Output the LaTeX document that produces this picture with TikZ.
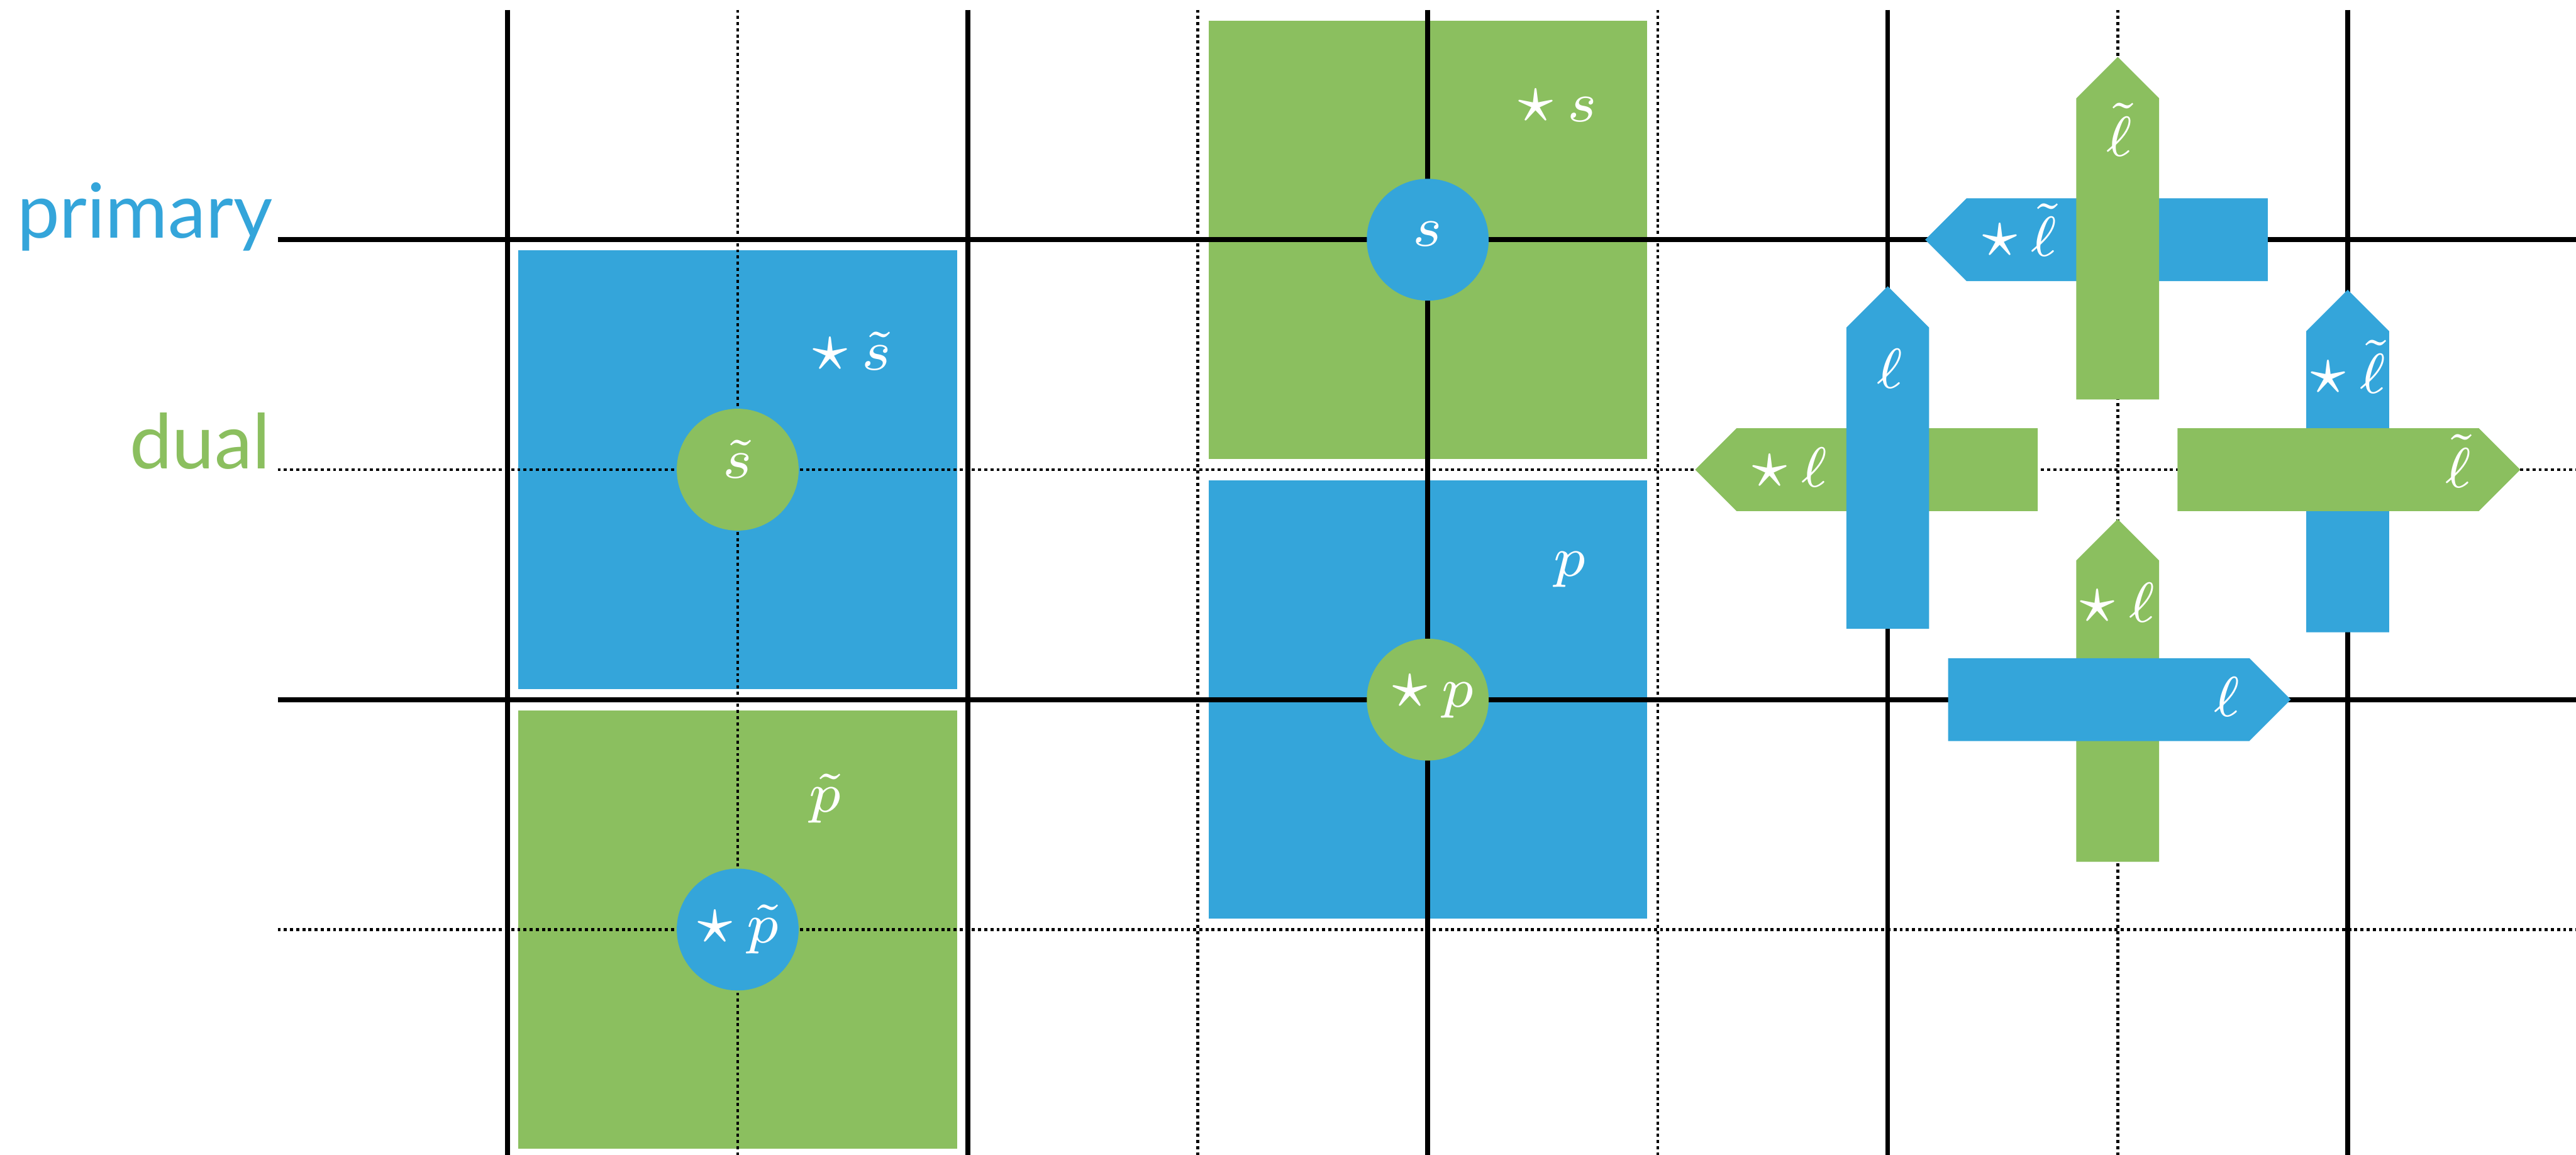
\documentclass[tikz,border=0pt]{standalone}
\usepackage{fontspec}
\usepackage{amsmath}
\usepackage{tikz}
\usetikzlibrary{positioning}
\newfontfamily\tagfont{Lato}
\definecolor{primblue}{HTML}{34A5DA}
\definecolor{dualgreen}{HTML}{8BBF5F}
\newcommand{\hodge}{\mathord{\scalebox{1.2}{$\star$}}\mskip3mu}
\newcommand{\ltil}{\skew{2}{\tilde}{\ell}}
\newcommand{\edgetile}[3]{\fill[#1,shift={(#2)},rotate=#3](0,-1.8)--(13.1,-1.8)--(14.9,0)--(13.1,1.8)--(0,1.8)--cycle;}
\begin{document}
\begin{tikzpicture}[x=1mm,y=1mm,font=\fontsize{7.5}{9}\selectfont,
    prim/.style={black,line width=.6pt},
    dual/.style={black,line width=.36pt,dash pattern=on .38pt off .38pt},
    lbl/.style={text=white,inner sep=0}]
    \useasboundingbox(-22.075,10.425) rectangle(89.925,-39.8);
    \fill[primblue](.47,-.47) rectangle(19.53,-19.53); \fill[dualgreen](.47,-20.47) rectangle(19.53,-39.53);
    \fill[dualgreen](30.47,9.53) rectangle(49.53,-9.53); \fill[primblue](30.47,-10.47) rectangle(49.53,-29.53);
    \draw[prim](0,10)--(0,-39.8); \draw[prim](20,10)--(20,-39.8); \draw[prim](40,10)--(40,-39.8);
    \draw[prim](60,10)--(60,-39.8); \draw[prim](80,10)--(80,-39.8);
    \draw[dual](10,10)--(10,-39.8); \draw[dual](30,10)--(30,-39.8); \draw[dual](50,10)--(50,-39.8); \draw[dual](70,10)--(70,-39.8);
    \draw[prim](-10,0)--(89.925,0); \draw[prim](-10,-20)--(89.925,-20);
    \draw[dual](-10,-10)--(89.925,-10); \draw[dual](-10,-30)--(89.925,-30);
    \fill[dualgreen](10,-10) circle(2.65); \fill[primblue](10,-30) circle(2.65);
    \fill[primblue](40,0) circle(2.65); \fill[dualgreen](40,-20) circle(2.65);
    \edgetile{primblue}{76.525,0}{180} \edgetile{dualgreen}{70,-6.95}{90}
    \edgetile{dualgreen}{66.525,-10}{180} \edgetile{primblue}{60,-16.925}{90}
    \edgetile{primblue}{80,-17.075}{90} \edgetile{dualgreen}{72.6,-10}{0}
    \edgetile{dualgreen}{70,-27.05}{90} \edgetile{primblue}{62.625,-20}{0}
    \node[text=primblue,anchor=base east,inner sep=0,font=\tagfont\fontsize{9.4}{11}\selectfont] (primary) at (-10.15,.07){primary};
    \node[text=dualgreen,anchor=base east,inner sep=0,font=\tagfont\fontsize{9.4}{11}\selectfont] (dual) at (-10.25,-9.95){dual};
    \node[lbl,anchor=base] (stil) at (10,-10.375){$\tilde s$}; \node[lbl,anchor=base] (hptil) at (9.98,-30.575){$\hodge\tilde p$};
    \node[lbl,anchor=base] (s) at (40,-.275){$s$}; \node[lbl,anchor=base] (hp) at (40.2,-20.325){$\hodge p$};
    \node[lbl,anchor=base west] (hstil) at (13.1,-5.675){$\hodge\tilde s$}; \node[lbl,anchor=base west] (ptil) at (13,-24.9){$\tilde p$};
    \node[lbl,anchor=base west] (hs) at (43.775,5.125){$\hodge s$}; \node[lbl,anchor=base west] (p) at (45.375,-14.625){$p$};
    \node[lbl,anchor=base] (ltilup) at (70.07,3.625){$\ltil$}; \node[lbl,anchor=base] (hltilleft) at (65.7,-.725){$\hodge\ltil$};
    \node[lbl,anchor=base] (lup) at (60.1,-6.45){$\ell$}; \node[lbl,anchor=base] (hlleft) at (55.7,-10.75){$\hodge\ell$};
    \node[lbl,anchor=base] (hltilup) at (79.98,-6.675){$\hodge\ltil$}; \node[lbl,anchor=base] (ltilright) at (84.8,-10.775){$\ltil$};
    \node[lbl,anchor=base] (hlup) at (69.95,-16.625){$\hodge\ell$}; \node[lbl,anchor=base] (lright) at (74.75,-20.725){$\ell$};
  \end{tikzpicture}
\end{document}
